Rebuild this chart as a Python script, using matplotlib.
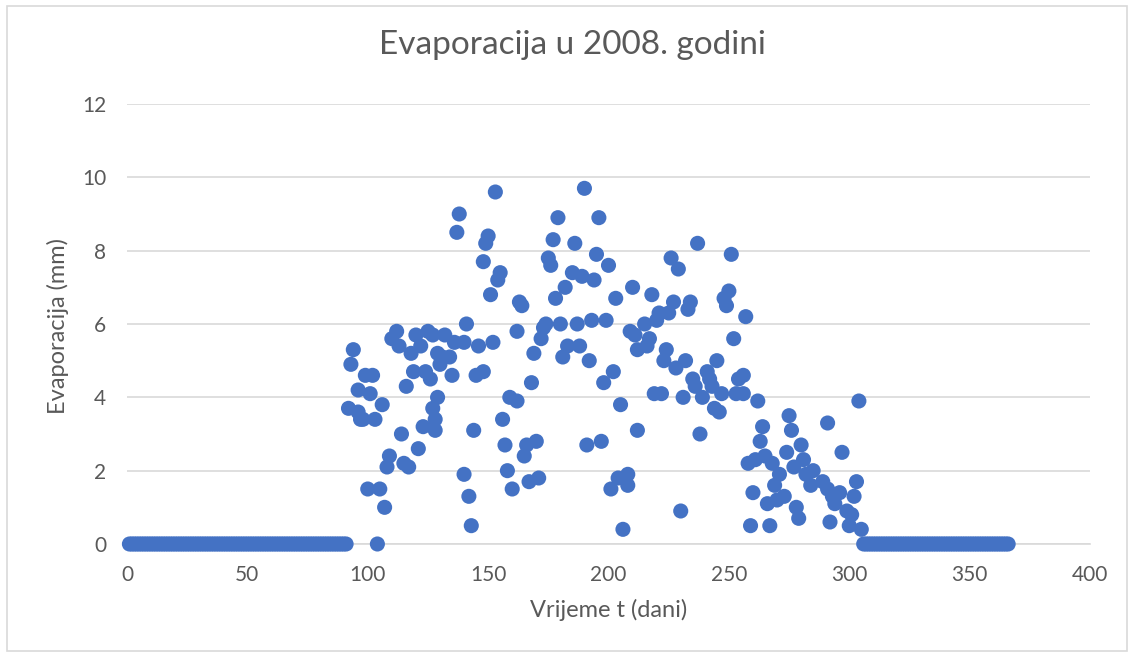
import numpy as np
import matplotlib.pyplot as plt
from matplotlib.patches import Rectangle

#-----DATA--------------------------------------------------------
zero_days_start = list(range(1, 92))
zero_days_end = list(range(306, 367))

days = [92, 93, 94, 96, 96, 97, 98, 99, 100, 101, 102, 103, 104, 105, 106, 107, 108, 109,
        110, 112, 113, 114, 115, 116, 117, 118, 119, 120, 121, 122, 123, 124, 125, 126,
        127, 127, 128, 128, 129, 129, 130, 131, 132, 134, 135, 136, 137, 138, 140, 140,
        141, 142, 143, 144, 145, 146, 148, 148, 149, 150, 151, 152, 153, 154, 155, 156,
        157, 158, 159, 160, 162, 162, 163, 164, 165, 166, 167, 168, 169, 170, 171, 172,
        173, 174, 175, 176, 177, 178, 179, 180, 181, 182, 183, 185, 186, 187, 188, 189,
        190, 191, 192, 193, 194, 195, 196, 197, 198, 199, 200, 201, 202, 203, 204, 205,
        206, 208, 208, 209, 210, 211, 212, 212, 215, 216, 217, 218, 219, 220, 221, 222,
        223, 224, 225, 226, 227, 228, 229, 230, 231, 232, 233, 234, 235, 236, 237, 238,
        239, 241, 242, 243, 244, 245, 246, 247, 248, 249, 250, 251, 252, 253, 254, 256,
        256, 257, 258, 259, 260, 261, 262, 263, 264, 265, 266, 267, 268, 269, 270, 271,
        273, 274, 275, 276, 277, 278, 279, 280, 281, 282, 284, 285, 289, 291, 291, 292,
        293, 294, 296, 297, 299, 300, 301, 302, 303, 304, 305]
evap = [3.7, 4.9, 5.3, 3.6, 4.2, 3.4, 3.4, 4.6, 1.5, 4.1, 4.6, 3.4, 0.0, 1.5, 3.8, 1.0, 2.1, 2.4,
        5.6, 5.8, 5.4, 3.0, 2.2, 4.3, 2.1, 5.2, 4.7, 5.7, 2.6, 5.4, 3.2, 4.7, 5.8, 4.5,
        5.7, 3.7, 3.4, 3.1, 4.0, 5.2, 4.9, 5.1, 5.7, 5.1, 4.6, 5.5, 8.5, 9.0, 5.5, 1.9,
        6.0, 1.3, 0.5, 3.1, 4.6, 5.4, 4.7, 7.7, 8.2, 8.4, 6.8, 5.5, 9.6, 7.2, 7.4, 3.4,
        2.7, 2.0, 4.0, 1.5, 3.9, 5.8, 6.6, 6.5, 2.4, 2.7, 1.7, 4.4, 5.2, 2.8, 1.8, 5.6,
        5.9, 6.0, 7.8, 7.6, 8.3, 6.7, 8.9, 6.0, 5.1, 7.0, 5.4, 7.4, 8.2, 6.0, 5.4, 7.3,
        9.7, 2.7, 5.0, 6.1, 7.2, 7.9, 8.9, 2.8, 4.4, 6.1, 7.6, 1.5, 4.7, 6.7, 1.8, 3.8,
        0.4, 1.9, 1.6, 5.8, 7.0, 5.7, 5.3, 3.1, 6.0, 5.4, 5.6, 6.8, 4.1, 6.1, 6.3, 4.1,
        5.0, 5.3, 6.3, 7.8, 6.6, 4.8, 7.5, 0.9, 4.0, 5.0, 6.4, 6.6, 4.5, 4.3, 8.2, 3.0,
        4.0, 4.7, 4.5, 4.3, 3.7, 5.0, 3.6, 4.1, 6.7, 6.5, 6.9, 7.9, 5.6, 4.1, 4.5, 4.6,
        4.1, 6.2, 2.2, 0.5, 1.4, 2.3, 3.9, 2.8, 3.2, 2.4, 1.1, 0.5, 2.2, 1.6, 1.2, 1.9,
        1.3, 2.5, 3.5, 3.1, 2.1, 1.0, 0.7, 2.7, 2.3, 1.9, 1.6, 2.0, 1.7, 3.3, 1.5, 0.6,
        1.3, 1.1, 1.4, 2.5, 0.9, 0.5, 0.8, 1.3, 1.7, 3.9, 0.4]

all_days = zero_days_start + days + zero_days_end
all_evap = [0.0] * len(zero_days_start) + evap + [0.0] * len(zero_days_end)

x_ticks = [0, 50, 100, 150, 200, 250, 300, 350, 400]
y_ticks = [0, 2, 4, 6, 8, 10, 12]
#-----/DATA-------------------------------------------------------

plt.rcParams['font.family'] = ['Lato', 'DejaVu Sans']
text_col = '#595959'
grid_col = '#D9D9D9'

fig = plt.figure(figsize=(11.32, 6.57), dpi=100)
ax = fig.add_axes([0.1122, 0.172, 0.8507, 0.6697])

ax.scatter(all_days, all_evap, s=118, color='#4472C4', edgecolors='none', zorder=3, clip_on=False)

ax.set_xlim(0, 400)
ax.set_ylim(0, 12)
ax.set_xticks(x_ticks)
ax.set_yticks(y_ticks)
ax.grid(axis='y', color=grid_col, linewidth=1.2, zorder=0)
for s in ['top', 'right', 'left']:
    ax.spines[s].set_visible(False)
ax.spines['bottom'].set_color(grid_col)
ax.spines['bottom'].set_linewidth(1.2)
ax.tick_params(axis='both', length=0, labelsize=15, labelcolor=text_col)
ax.tick_params(axis='x', pad=15)
ax.tick_params(axis='y', pad=15)

# title centred on the figure, like the Excel chart
fig.text(0.506, 1 - 45.5 / 657, 'Evaporacija u 2008. godini', fontsize=24,
         color=text_col, ha='center', va='center')

ax.set_xlabel('Vrijeme t (dani)', fontsize=17, color=text_col)
ax.set_ylabel('Evaporacija (mm)', fontsize=17, color=text_col)
ax.xaxis.set_label_coords(0.5, -0.125)
ax.yaxis.set_label_coords(-0.06, 0.495)

fig.patches.append(Rectangle((7 / 1132, 6 / 657), 1120 / 1132, 645 / 657, transform=fig.transFigure,
                             fill=False, edgecolor=grid_col, linewidth=1.2))

fig.savefig('out.png', dpi=100)
